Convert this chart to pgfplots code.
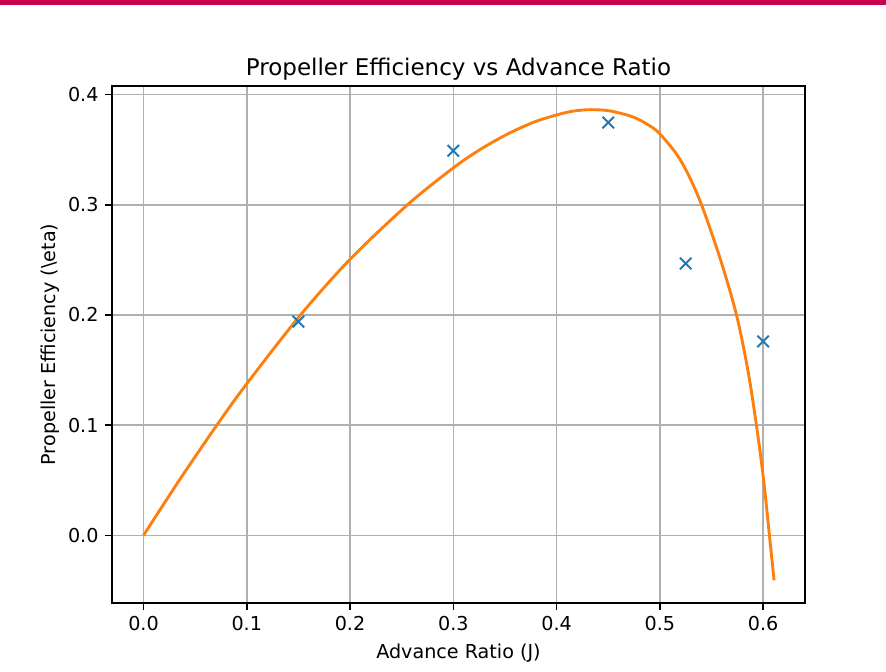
\documentclass[border=0pt]{standalone}
\usepackage{fontspec}
\setmainfont{DejaVu Sans}
\usepackage{pgfplots}
\pgfplotsset{compat=1.18}

\definecolor{mplblue}{HTML}{1F77B4}
\definecolor{mplorange}{HTML}{FF7F0E}
\definecolor{gridgray}{HTML}{B0B0B0}
\definecolor{topbar}{HTML}{C8004F}

\begin{document}
\begin{tikzpicture}
\useasboundingbox (0,0) rectangle (460.8bp,349.0bp);
\fill[topbar] (0,346.4bp) rectangle (460.8bp,349.0bp);
\begin{axis}[
  at={(58.25bp,35.37bp)}, anchor=south west,
  scale only axis, width=360.4bp, height=268.9bp,
  xmin=-0.0305, xmax=0.6405, ymin=-0.0614, ymax=0.4078,
  xtick={0,0.1,0.2,0.3,0.4,0.5,0.6},
  ytick={0,0.1,0.2,0.3,0.4},
  /pgf/number format/.cd, fixed, fixed zerofill, precision=1, assume math mode=true,
  /pgfplots/.cd,
  tick pos=left, tick align=outside,
  major tick length=3.5bp,
  every tick/.style={black, line width=0.8bp},
  axis line style={line width=0.8bp},
  grid=major,
  major grid style={gridgray, line width=0.8bp},
  ticklabel style={font=\fontsize{10}{12}\selectfont},
  label style={font=\fontsize{10}{12}\selectfont},
  ylabel shift=-2.6bp,
  title style={font=\fontsize{12}{14.4}\selectfont, yshift=-6.7bp},
  title={Propeller Efficiency vs Advance Ratio},
  xlabel={Advance Ratio (J)},
  ylabel={Propeller Efficiency (\textbackslash eta)},
  clip=false,
]
% fitted efficiency curve
\addplot[mplorange, line width=1.5bp, smooth, tension=0.5] coordinates {
  (0,0) (0.035,0.0505) (0.071,0.100) (0.1,0.1376) (0.152,0.200)
  (0.2,0.2505) (0.2562,0.3005) (0.3,0.3335) (0.3257,0.3500) (0.3515,0.3637)
  (0.3774,0.3748) (0.4,0.3815) (0.416,0.3850) (0.4323,0.3863) (0.4517,0.3852)
  (0.4743,0.3796) (0.4905,0.3715) (0.5,0.3644) (0.5163,0.3458) (0.528,0.3265)
  (0.5406,0.2994) (0.559,0.2494) (0.5742,0.200) (0.5852,0.150) (0.5935,0.100)
  (0.6005,0.050) (0.6061,0.000) (0.6106,-0.0408)
};
% measured points
\addplot[only marks, mark=x, mark size=4.24bp, mplblue, line width=1bp] coordinates {
  (0.15,0.194) (0.3,0.349) (0.45,0.3746) (0.525,0.2467) (0.6,0.176)
};
\end{axis}
\end{tikzpicture}
\end{document}
